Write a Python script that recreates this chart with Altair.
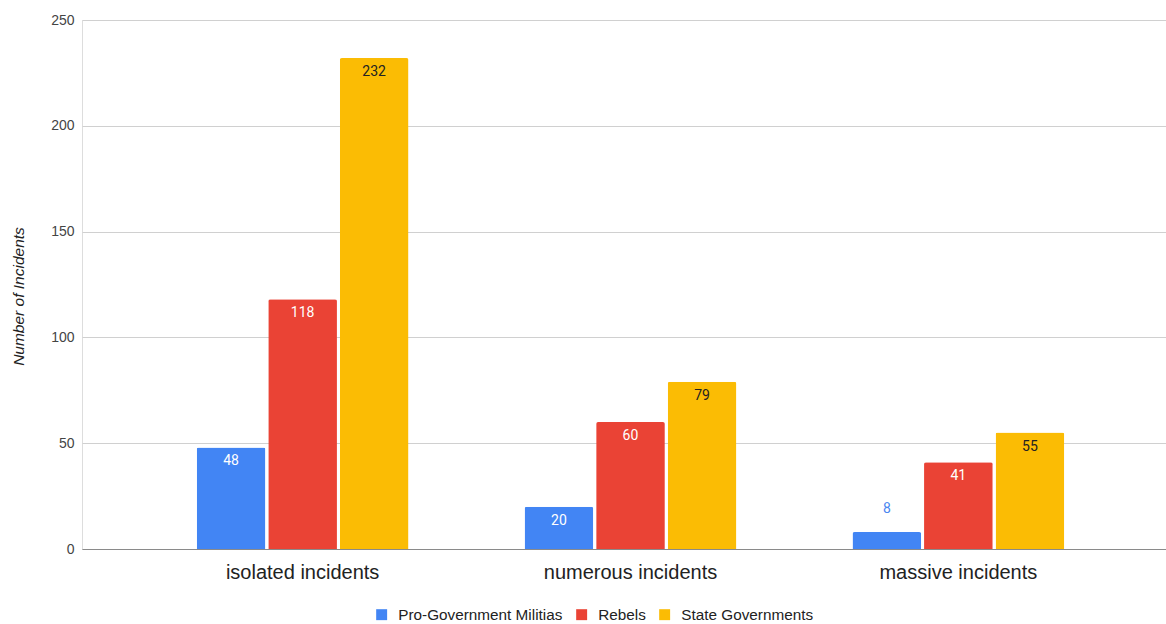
import altair as alt
import pandas as pd

categories = ["isolated incidents", "numerous incidents", "massive incidents"]
series = ["Pro-Government Militias", "Rebels", "State Governments"]
militias = [48, 20, 8]
rebels = [118, 60, 41]
state = [232, 79, 55]

rows = []
for i, c in enumerate(categories):
    for s, vals in zip(series, [militias, rebels, state]):
        rows.append({"category": c, "series": s, "value": vals[i]})
df = pd.DataFrame(rows)

colors = ["#4285F4", "#EA4335", "#FBBC04"]
FONT = "Liberation Sans"
LBL = "Roboto"

x = alt.X("category:N", sort=categories, title=None,
          scale=alt.Scale(paddingInner=0.354, paddingOuter=0.33, align=0.53),
          axis=alt.Axis(labelAngle=0, labelFontSize=20, labelColor="#222222", labelFont=FONT,
                        ticks=False, domainColor="#8a8a8a", domainWidth=1.2, labelPadding=13))
xo = alt.XOffset("series:N", sort=series, scale=alt.Scale(paddingInner=0.04))
y = alt.Y("value:Q", scale=alt.Scale(domain=[0, 250], nice=False),
          axis=alt.Axis(values=[0, 50, 100, 150, 200, 250], title="Number of Incidents",
                        titleFont=FONT, titleFontSize=15.5, titleFontStyle="italic", titleFontWeight="normal",
                        titleColor="#222222", titleAngle=-90, titleX=-64, titleY=276,
                        titleAlign="center", titleBaseline="middle",
                        labelFont=FONT, labelFontSize=14, labelColor="#444444", labelPadding=8,
                        ticks=False, domain=False, gridColor="#d0d0d0", gridWidth=1))

base = alt.Chart(df)

bars = base.mark_bar(cornerRadiusTopLeft=2, cornerRadiusTopRight=2).encode(
    x=x, xOffset=xo, y=y,
    color=alt.Color("series:N", sort=series,
                    scale=alt.Scale(domain=series, range=colors),
                    legend=alt.Legend(title=None, orient="none", direction="horizontal",
                                      legendX=292, legendY=587, symbolType="square",
                                      symbolSize=120, symbolStrokeWidth=0, labelLimit=400,
                                      labelFont=FONT, labelFontSize=15.3, labelColor="#222222",
                                      columnPadding=11, labelOffset=9)),
)

inside = base.transform_filter("datum.value >= 15").transform_calculate(
    tcolor="datum.series == 'State Governments' ? '#222222' : '#ffffff'"
).mark_text(baseline="middle", dy=14, font=LBL, fontSize=14).encode(
    x=x, xOffset=xo, y=y, text="value:Q",
    color=alt.Color("tcolor:N", scale=None),
)

outside = base.transform_filter("datum.value < 15").mark_text(
    baseline="middle", dy=-23, font=LBL, fontSize=14, color="#4a86f0"
).encode(x=x, xOffset=xo, y=y, text="value:Q")

chart = alt.layer(bars, inside, outside).properties(
    width=1084, height=529,
    autosize=alt.AutoSizeParams(type="none"),
    padding={"left": 82, "top": 20, "right": 0, "bottom": 75},
).configure_view(stroke=None).configure(background="white")

chart.save("out.html", embed_options={"renderer": "svg", "actions": False})
